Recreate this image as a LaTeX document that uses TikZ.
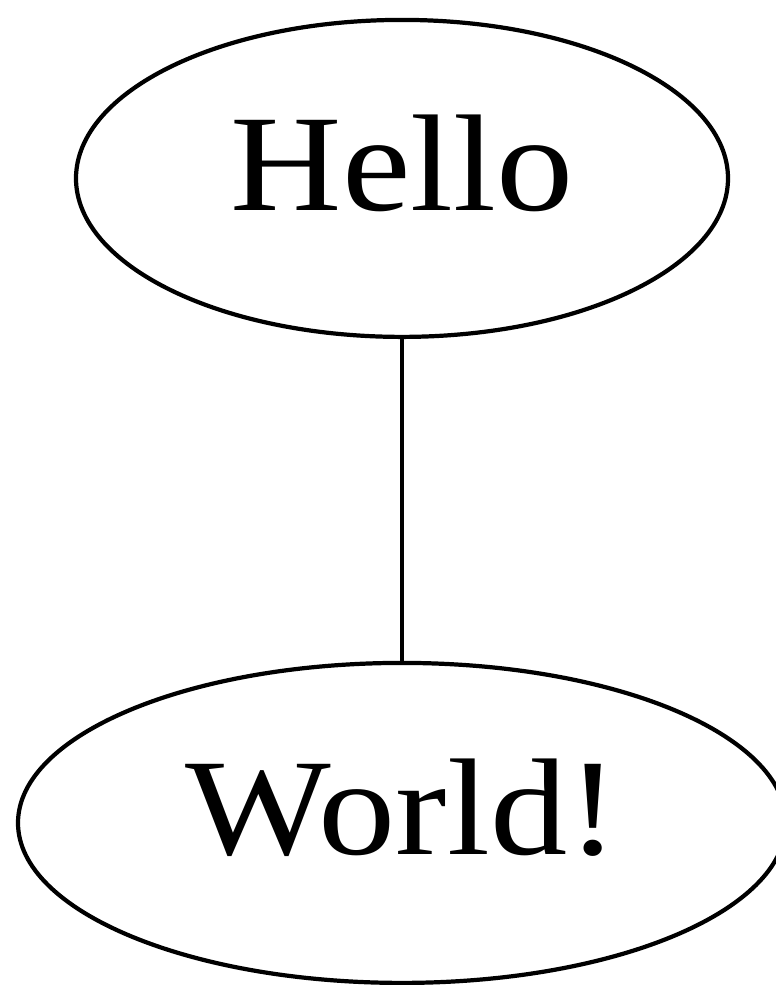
\documentclass[tikz,border=0pt]{standalone}
\usepackage{fontspec}
\setmainfont{Liberation Serif}
\usetikzlibrary{positioning, shapes.geometric}

\begin{document}
\begin{tikzpicture}[
    node distance=8.15cm,
    every node/.style={align=center},
    vertex/.style={ellipse, draw, line width=3pt, inner sep=0pt, outer sep=0pt,
        text height=2.0cm, text depth=0.4cm,
        font=\fontsize{98}{118}\selectfont},
    edge/.style={line width=3pt}
]
\useasboundingbox (0,0) rectangle (19.4,-24.625);

% Nodes
\node[vertex, minimum width=16.3cm, minimum height=7.925cm] (hello) at (10.05,-4.46) {\scalebox{1.12}[1]{Hello}};
\node[vertex, minimum width=19.2cm, minimum height=8cm, below=of hello] (world) {\scalebox{1.12}[1]{World!}};

% Connections
\draw[edge] (hello) -- (world);

\end{tikzpicture}
\end{document}
